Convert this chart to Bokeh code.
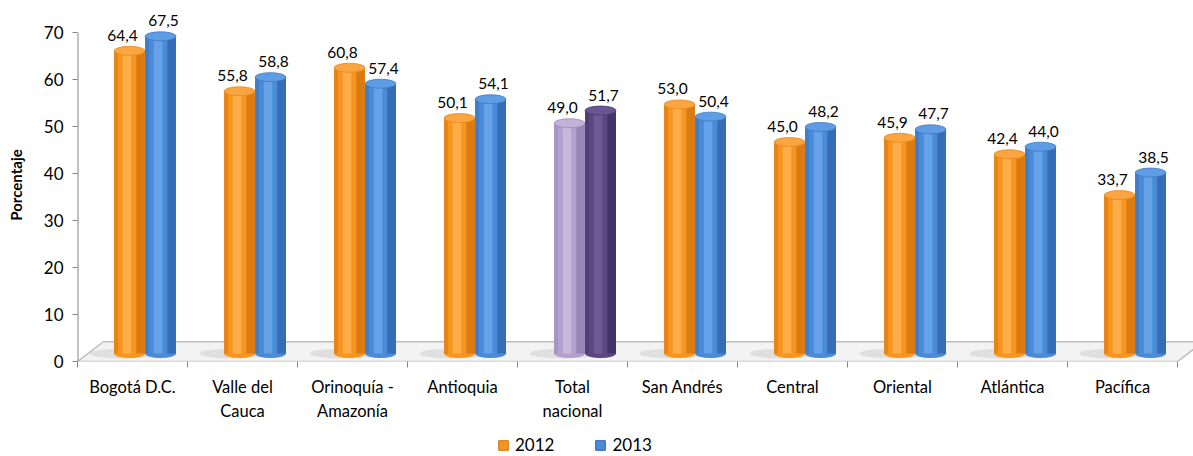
from bokeh.plotting import figure
from bokeh.layouts import column
from bokeh.models import (ColumnDataSource, FixedTicker, LabelSet, Legend, LegendItem, Range1d)
from bokeh.core.properties import value
from bokeh.transform import dodge
from bokeh.embed import file_html
from bokeh.resources import INLINE

categories = ["Bogotá D.C.", "Valle del Cauca", "Orinoquía - Amazonía", "Antioquia",
              "Total nacional", "San Andrés", "Central", "Oriental", "Atlántica", "Pacífica"]
tick_labels = ["Bogotá D.C.", "Valle del\nCauca", "Orinoquía -\nAmazonía", "Antioquia",
               "Total\nnacional", "San Andrés", "Central", "Oriental", "Atlántica", "Pacífica"]
v2012 = [64.4, 55.8, 60.8, 50.1, 49.0, 53.0, 45.0, 45.9, 42.4, 33.7]
v2013 = [67.5, 58.8, 57.4, 54.1, 51.7, 50.4, 48.2, 47.7, 44.0, 38.5]
series_names = ["2012", "2013"]
y_ticks = [0, 10, 20, 30, 40, 50, 60, 70]

FONT = "Lato"
n = len(categories)
BASE = 1.7          # 3D depth lift (value units)
DEPTH_X = 0.236     # floor depth in x units
DEPTH_Y = 4.2       # floor depth in y units
W = 0.28            # cylinder width

pal = {
    "orange": dict(body="#F7961F", hi="#FFB352", dl="#E5831A", dr="#D2700E", top="#FAA540", tl="#E68A1E"),
    "blue": dict(body="#4A8AD6", hi="#6CA8EC", dl="#3F7DC8", dr="#2D62AA", top="#5E9DE6", tl="#3D78C2"),
    "lpurple": dict(body="#B3A0CC", hi="#CCBEE0", dl="#A794C2", dr="#8F7BAE", top="#C2B2D9", tl="#9E8AB9"),
    "dpurple": dict(body="#5A4680", hi="#735E9A", dl="#503D74", dr="#3E2E5E", top="#6A5592", tl="#4A3870"),
}

# frame spans 8..361 px; 70 sits at 32 px
y_top = y_ticks[-1] * (361 - 8) / (361 - 32)
p = figure(width=1193, height=426, output_backend="svg", toolbar_location=None,
           x_range=Range1d(0, n + 16 / 110), y_range=Range1d(0, y_top),
           min_border_left=77, min_border_top=8, min_border_right=0, min_border_bottom=65)
p.outline_line_color = None
p.xgrid.visible = False
p.ygrid.visible = False
p.background_fill_color = "white"

# floor
p.patch(x=[0, n, n + DEPTH_X, DEPTH_X], y=[0, 0, DEPTH_Y, DEPTH_Y],
        fill_color="#F3F3F3", line_color="#BDBDBD", line_width=1.5)

# value axis line (stops at the last tick)
p.segment(x0=[0], y0=[y_ticks[0]], x1=[0], y1=[y_ticks[-1]], line_color="#868686", line_width=2)

# shadows on the floor
idx = list(range(n))
p.ellipse(x=[i + 0.42 for i in idx], y=[BASE] * n, width=0.62, height=10,
          height_units="screen", fill_color="#C8C8C8", fill_alpha=0.45, line_color=None)

def draw_series(vals, offset, pal_default, pal_total):
    cols = []
    for c in categories:
        cols.append(pal[pal_total] if c == "Total nacional" else pal[pal_default])
    src = ColumnDataSource(dict(
        i=idx, v=vals, top=[v + BASE for v in vals], base=[BASE] * n,
        body=[c["body"] for c in cols], hi=[c["hi"] for c in cols], dl=[c["dl"] for c in cols],
        dr=[c["dr"] for c in cols], topc=[c["top"] for c in cols], tl=[c["tl"] for c in cols],
        lbl=[f"{v:.1f}".replace(".", ",") for v in vals],
    ))
    p.ellipse(x=dodge("i", offset), y="base", width=W, height=9, height_units="screen",
              fill_color="body", line_color=None, source=src)
    p.vbar(x=dodge("i", offset), bottom="base", top="top", width=W,
           fill_color="body", line_color=None, source=src)
    p.vbar(x=dodge("i", offset - W / 2 + 0.06 * W), bottom="base", top="top", width=0.12 * W,
           fill_color="dl", line_color=None, source=src)
    p.vbar(x=dodge("i", offset - 0.08 * W), bottom="base", top="top", width=0.28 * W,
           fill_color="hi", line_color=None, fill_alpha=0.8, source=src)
    p.vbar(x=dodge("i", offset + W / 2 - 0.14 * W), bottom="base", top="top", width=0.28 * W,
           fill_color="dr", line_color=None, fill_alpha=0.75, source=src)
    p.ellipse(x=dodge("i", offset), y="top", width=W, height=9, height_units="screen",
              fill_color="topc", line_color="tl", line_width=0.8, source=src)
    return src

s12 = draw_series(v2012, 0.473, "orange", "lpurple")
s13 = draw_series(v2013, 0.755, "blue", "dpurple")

for src, off, xo in ((s12, 0.473, -7), (s13, 0.755, 3)):
    p.add_layout(LabelSet(x=dodge("i", off), y="top", text="lbl", source=src, x_offset=xo, y_offset=10,
                          text_align="center", text_baseline="bottom", text_font=value(FONT),
                          text_font_size="15.5px", text_color="#000000"))

# y axis
ya = p.yaxis[0]
ya.ticker = FixedTicker(ticks=y_ticks)
ya.axis_line_color = None
ya.major_tick_line_color = "#868686"
ya.major_tick_out = 5
ya.major_tick_in = 0
ya.minor_tick_line_color = None
ya.major_label_text_font = FONT
ya.major_label_text_font_size = "17px"
ya.major_label_text_color = "#000000"
ya.major_label_standoff = 9
ya.axis_label = "Porcentaje"
ya.axis_label_text_font = FONT
ya.axis_label_text_font_size = "15px"
ya.axis_label_text_font_style = "bold"
ya.axis_label_text_color = "#000000"
ya.axis_label_standoff = 16

# x axis
xa = p.xaxis[0]
xa.ticker = FixedTicker(ticks=[i + 0.5 for i in idx], minor_ticks=list(range(n + 1)))
xa.major_label_overrides = {i + 0.5: t for i, t in enumerate(tick_labels)}
xa.axis_line_color = None
xa.major_tick_line_color = None
xa.major_tick_out = 0
xa.major_tick_in = 0
xa.minor_tick_line_color = "#868686"
xa.minor_tick_out = 6
xa.minor_tick_in = 0
xa.major_label_text_font = FONT
xa.major_label_text_font_size = "16.5px"
xa.major_label_text_color = "#000000"
xa.major_label_standoff = 9

# legend in a strip below
lf = figure(width=1193, height=30, output_backend="svg", toolbar_location=None,
            x_range=Range1d(0, 1), y_range=Range1d(0, 1),
            x_axis_location=None, y_axis_location=None,
            min_border_left=0, min_border_right=0, min_border_top=0, min_border_bottom=0)
lf.outline_line_color = None
lf.xgrid.visible = False
lf.ygrid.visible = False
# legend proxies (kept outside the visible range)
r12 = lf.vbar(x=[-5], top=[-5], width=1, fill_color=pal["orange"]["body"],
              line_color=pal["orange"]["dr"])
r13 = lf.vbar(x=[-5], top=[-5], width=1, fill_color=pal["blue"]["body"],
              line_color=pal["blue"]["dr"])
legend = Legend(items=[LegendItem(label=series_names[0], renderers=[r12]),
                       LegendItem(label=series_names[1], renderers=[r13])],
                orientation="horizontal", location=(420, 1), border_line_color=None,
                background_fill_alpha=0, label_text_font=FONT, label_text_font_size="17px",
                label_text_color="#000000", label_height=18,
                glyph_width=12, glyph_height=12, spacing=40, padding=0, margin=0,
                label_standoff=6)
lf.add_layout(legend, "center")

layout = column(p, lf, spacing=0)
open("out.html", "w").write(file_html(layout, INLINE))
